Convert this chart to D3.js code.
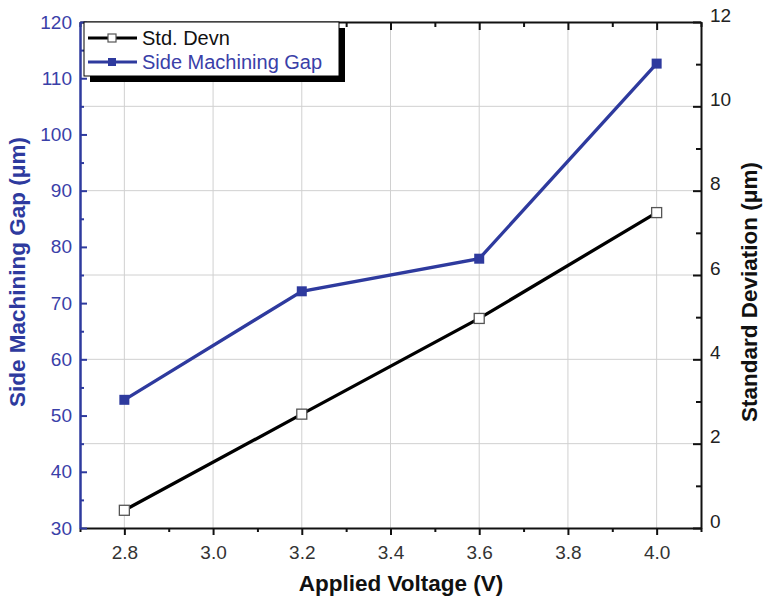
<!DOCTYPE html>
<html lang="en">
<head>
    <meta charset="UTF-8">
    <script type="text/javascript" src="https://d3js.org/d3.v7.min.js"></script>
    <title>Side Machining Gap vs Applied Voltage</title>
    <style>
        body { margin: 0; background: #fff; }
        text { font-family: "Liberation Sans", Arial, sans-serif; }
    </style>
</head>
<body>
    <script type="text/javascript">
        const width = 764;
        const height = 600;
        const margin = { top: 22, right: 63, bottom: 72, left: 80 };

        // data
        const voltages = [2.8, 3.2, 3.6, 4.0];
        const gapValues = [52.8, 72.1, 77.9, 112.6];   // left axis, µm
        const stdValues = [0.42, 2.70, 4.97, 7.48];    // right axis, µm
        const xTicks = [2.8, 3.0, 3.2, 3.4, 3.6, 3.8, 4.0];
        const leftTicks = [30, 40, 50, 60, 70, 80, 90, 100, 110, 120];
        const rightTicks = [0, 2, 4, 6, 8, 10, 12];

        const blue = "#2e3a9e";
        const blueText = "#3a40a8";

        const svg = d3.select("body")
            .append("svg")
            .attr("width", width)
            .attr("height", height);

        const x = d3.scaleLinear().domain([2.7, 4.1]).range([margin.left, width - margin.right]);
        const yL = d3.scaleLinear().domain([30, 120]).range([height - margin.bottom, margin.top]);
        const yR = d3.scaleLinear().domain([0, 12]).range([height - margin.bottom, margin.top]);

        const x0 = margin.left, x1 = width - margin.right;
        const y0 = height - margin.bottom, y1 = margin.top;

        // grid lines
        svg.append("g")
            .selectAll("line")
            .data(xTicks)
            .join("line")
            .attr("x1", d => x(d)).attr("x2", d => x(d))
            .attr("y1", y1).attr("y2", y0)
            .attr("stroke", "#d0d0d0").attr("stroke-width", 1);

        svg.append("g")
            .selectAll("line")
            .data(rightTicks.slice(1, -1))
            .join("line")
            .attr("x1", x0).attr("x2", x1)
            .attr("y1", d => yR(d)).attr("y2", d => yR(d))
            .attr("stroke", "#d0d0d0").attr("stroke-width", 1);

        // minor ticks
        const xMinor = d3.range(2.7, 4.1001, 0.1).map(d => +d.toFixed(1)).filter(d => !xTicks.includes(d));
        const leftMinor = d3.range(35, 120, 10);
        const rightMinor = d3.range(1, 12, 2);

        // bottom axis (ticks outward)
        const bottomAxis = svg.append("g").attr("transform", `translate(0,${y0})`)
            .call(d3.axisBottom(x).tickValues(xTicks).tickFormat(d3.format(".1f")).tickSizeInner(7).tickSizeOuter(0).tickPadding(11));
        bottomAxis.select(".domain").attr("stroke", "#111").attr("stroke-width", 2);
        bottomAxis.selectAll(".tick line").attr("stroke", "#111").attr("stroke-width", 2);
        bottomAxis.selectAll(".tick text").attr("font-size", "19px").attr("fill", "#333");
        svg.append("g").attr("transform", `translate(0,${y0})`)
            .call(d3.axisBottom(x).tickValues(xMinor).tickSize(4).tickFormat(""))
            .call(g => g.select(".domain").remove())
            .selectAll("line").attr("stroke", "#111").attr("stroke-width", 2);

        // top axis (ticks inward)
        const topAxis = svg.append("g").attr("transform", `translate(0,${y1})`)
            .call(d3.axisBottom(x).tickValues(xTicks).tickSizeInner(8).tickSizeOuter(0).tickFormat(""));
        topAxis.select(".domain").attr("stroke", "#111").attr("stroke-width", 2);
        topAxis.selectAll(".tick line").attr("stroke", "#111").attr("stroke-width", 2);
        svg.append("g").attr("transform", `translate(0,${y1})`)
            .call(d3.axisBottom(x).tickValues(xMinor).tickSize(5).tickFormat(""))
            .call(g => g.select(".domain").remove())
            .selectAll("line").attr("stroke", "#111").attr("stroke-width", 2);

        // right axis (ticks inward)
        const rightAxis = svg.append("g").attr("transform", `translate(${x1},0)`)
            .call(d3.axisLeft(yR).tickValues(rightTicks).tickSizeInner(8).tickSizeOuter(0).tickPadding(0));
        rightAxis.select(".domain").attr("stroke", "#111").attr("stroke-width", 2);
        rightAxis.selectAll(".tick line").attr("stroke", "#111").attr("stroke-width", 2);
        rightAxis.selectAll(".tick text")
            .attr("x", 9).attr("dy", "-0.05em").attr("text-anchor", "start")
            .attr("font-size", "19px").attr("fill", "#222");
        svg.append("g").attr("transform", `translate(${x1},0)`)
            .call(d3.axisLeft(yR).tickValues(rightMinor).tickSize(5).tickFormat(""))
            .call(g => g.select(".domain").remove())
            .selectAll("line").attr("stroke", "#111").attr("stroke-width", 2);

        // left axis (blue, ticks inward)
        const leftAxis = svg.append("g").attr("transform", `translate(${x0},0)`)
            .call(d3.axisRight(yL).tickValues(leftTicks).tickSizeInner(7).tickSizeOuter(0).tickPadding(0));
        leftAxis.select(".domain").attr("stroke", blue).attr("stroke-width", 2.5);
        leftAxis.selectAll(".tick line").attr("stroke", blue).attr("stroke-width", 2);
        leftAxis.selectAll(".tick text")
            .attr("x", -8).attr("text-anchor", "end")
            .attr("font-size", "19px").attr("fill", blueText);
        svg.append("g").attr("transform", `translate(${x0},0)`)
            .call(d3.axisRight(yL).tickValues(leftMinor).tickSize(4).tickFormat(""))
            .call(g => g.select(".domain").remove())
            .selectAll("line").attr("stroke", blue).attr("stroke-width", 2);

        // series
        const gapLine = d3.line().x((d, i) => x(voltages[i])).y(d => yL(d));
        const stdLine = d3.line().x((d, i) => x(voltages[i])).y(d => yR(d));

        svg.append("path").datum(stdValues)
            .attr("d", stdLine).attr("fill", "none")
            .attr("stroke", "#000").attr("stroke-width", 3.3);
        svg.append("path").datum(gapValues)
            .attr("d", gapLine).attr("fill", "none")
            .attr("stroke", blue).attr("stroke-width", 3.3);

        svg.append("g").selectAll("rect")
            .data(stdValues)
            .join("rect")
            .attr("x", (d, i) => x(voltages[i]) - 5)
            .attr("y", d => yR(d) - 5)
            .attr("width", 10).attr("height", 10)
            .attr("fill", "#fff").attr("stroke", "#555").attr("stroke-width", 1.3);

        svg.append("g").selectAll("rect")
            .data(gapValues)
            .join("rect")
            .attr("x", (d, i) => x(voltages[i]) - 5)
            .attr("y", d => yL(d) - 5)
            .attr("width", 10).attr("height", 10)
            .attr("fill", blue);

        // legend with drop shadow
        const lg = svg.append("g");
        lg.append("rect").attr("x", 90).attr("y", 28).attr("width", 255).attr("height", 54).attr("fill", "#000");
        lg.append("rect").attr("x", 84).attr("y", 22).attr("width", 255).attr("height", 54)
            .attr("fill", "#fff").attr("stroke", "#000").attr("stroke-width", 1);
        const legendItems = [
            { label: "Std. Devn", color: "#000", textColor: "#111", fill: "#fff", stroke: "#555", y: 38 },
            { label: "Side Machining Gap", color: blue, textColor: blueText, fill: blue, stroke: "none", y: 62 }
        ];
        legendItems.forEach(it => {
            lg.append("line").attr("x1", 88).attr("x2", 137).attr("y1", it.y).attr("y2", it.y)
                .attr("stroke", it.color).attr("stroke-width", 3);
            lg.append("rect").attr("x", 108).attr("y", it.y - 4).attr("width", 8).attr("height", 8)
                .attr("fill", it.fill).attr("stroke", it.stroke).attr("stroke-width", 1.2);
            lg.append("text").attr("x", 142).attr("y", it.y + 7)
                .attr("font-size", "20px").attr("fill", it.textColor).text(it.label);
        });

        // axis titles
        svg.append("text")
            .attr("x", 401).attr("y", 591)
            .attr("text-anchor", "middle")
            .attr("font-size", "22.5px").attr("font-weight", "bold").attr("fill", "#111")
            .text("Applied Voltage (V)");

        svg.append("text")
            .attr("transform", "translate(25,272) rotate(-90)")
            .attr("text-anchor", "middle")
            .attr("font-size", "22.5px").attr("font-weight", "bold").attr("fill", blue)
            .text("Side Machining Gap (\u03bcm)");

        svg.append("text")
            .attr("transform", "translate(757,292) rotate(-90)")
            .attr("text-anchor", "middle")
            .attr("font-size", "22.5px").attr("font-weight", "bold").attr("fill", "#111")
            .text("Standard Deviation (\u03bcm)");
    </script>
</body>
</html>
